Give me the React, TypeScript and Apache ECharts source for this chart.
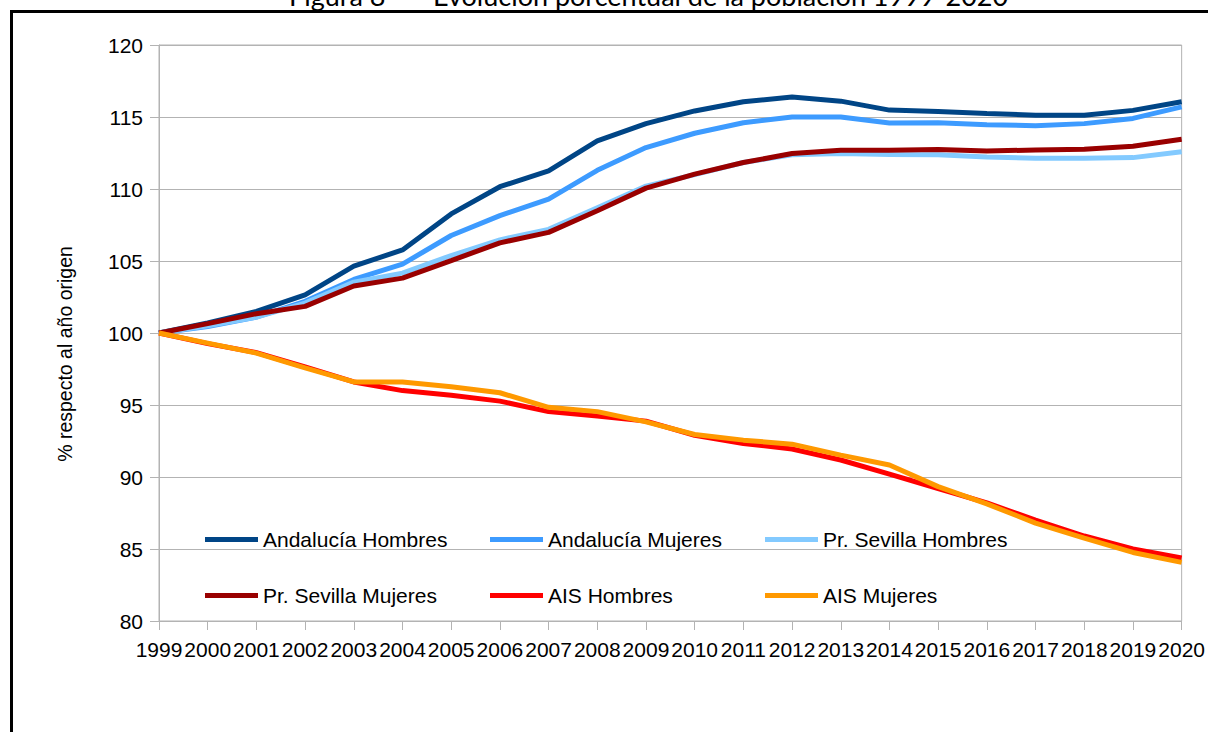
import React, { useEffect, useRef } from "react";
import * as echarts from "echarts";

const years = ["1999","2000","2001","2002","2003","2004","2005","2006","2007","2008","2009","2010","2011","2012","2013","2014","2015","2016","2017","2018","2019","2020"];

const andaluciaHombres = [100, 100.7, 101.5, 102.65, 104.64, 105.77, 108.27, 110.16, 111.26, 113.34, 114.54, 115.42, 116.06, 116.39, 116.1, 115.48, 115.39, 115.25, 115.12, 115.12, 115.46, 116.06];
const andaluciaMujeres = [100, 100.45, 101.1, 102.2, 103.72, 104.78, 106.77, 108.15, 109.3, 111.3, 112.88, 113.87, 114.6, 115.0, 115.0, 114.58, 114.6, 114.47, 114.4, 114.54, 114.9, 115.7];
const sevillaHombres = [100, 100.5, 101.1, 102.08, 103.53, 104.16, 105.38, 106.47, 107.2, 108.7, 110.2, 111.0, 111.84, 112.37, 112.46, 112.4, 112.38, 112.23, 112.14, 112.14, 112.18, 112.58];
const sevillaMujeres = [100, 100.65, 101.34, 101.85, 103.26, 103.81, 105.03, 106.26, 106.99, 108.49, 110.06, 111.03, 111.84, 112.46, 112.69, 112.69, 112.74, 112.64, 112.71, 112.76, 112.97, 113.45];
const aisHombres = [100, 99.26, 98.64, 97.64, 96.6, 96.0, 95.68, 95.27, 94.54, 94.23, 93.88, 92.9, 92.33, 91.94, 91.18, 90.2, 89.2, 88.2, 87.0, 85.9, 85.0, 84.37];
const aisMujeres = [100, 99.3, 98.6, 97.58, 96.6, 96.6, 96.27, 95.85, 94.84, 94.54, 93.83, 92.95, 92.56, 92.28, 91.52, 90.83, 89.33, 88.13, 86.8, 85.76, 84.76, 84.07];

const seriesNames = ["Andalucía Hombres", "Andalucía Mujeres", "Pr. Sevilla Hombres", "Pr. Sevilla Mujeres", "AIS Hombres", "AIS Mujeres"];
const seriesData = [andaluciaHombres, andaluciaMujeres, sevillaHombres, sevillaMujeres, aisHombres, aisMujeres];
const seriesColors = ["#004586", "#3d9bff", "#83caff", "#990000", "#ff0000", "#ff9900"];

const FONT = "'Liberation Sans', Arial, sans-serif";
const TITLE_FONT = "Lato, 'Liberation Sans', sans-serif";

export default function App() {
  const ref = useRef<HTMLDivElement>(null);
  useEffect(() => {
    if (!ref.current) return;
    const chart = echarts.init(ref.current, null, { renderer: "svg" });
    const legendCommon = {
      orient: "vertical" as const,
      icon: "rect",
      itemWidth: 53,
      itemHeight: 5,
      itemGap: 35,
      top: 529,
      padding: 0,
      textStyle: { fontFamily: FONT, fontSize: 21, color: "#000", lineHeight: 21 },
      selectedMode: false,
    };
    chart.setOption({
      animation: false,
      backgroundColor: "#fff",
      grid: { left: 159, right: 23, top: 45, bottom: 111, show: true, borderColor: "#b3b3b3", borderWidth: 1 },
      legend: [
        { ...legendCommon, left: 205, data: [seriesNames[0], seriesNames[3]] },
        { ...legendCommon, left: 490, data: [seriesNames[1], seriesNames[4]] },
        { ...legendCommon, left: 765, data: [seriesNames[2], seriesNames[5]] },
      ],
      xAxis: {
        type: "category",
        data: years,
        boundaryGap: false,
        axisLine: { lineStyle: { color: "#b3b3b3", width: 1 } },
        axisTick: { show: true, length: 9, lineStyle: { color: "#b3b3b3" } },
        axisLabel: { fontFamily: FONT, fontSize: 21, color: "#000", margin: 18, interval: 0 },
        splitLine: { show: false },
      },
      yAxis: {
        type: "value",
        min: 80,
        max: 120,
        interval: 5,
        axisLine: { show: true, lineStyle: { color: "#b3b3b3", width: 1 } },
        axisTick: { show: true, length: 9, lineStyle: { color: "#b3b3b3" } },
        axisLabel: { fontFamily: FONT, fontSize: 21, color: "#000", margin: 16 },
        splitLine: { show: true, lineStyle: { color: "#b3b3b3", width: 1 } },
      },
      series: seriesNames.map((name, i) => ({
        name,
        type: "line",
        data: seriesData[i],
        showSymbol: false,
        symbol: "none",
        lineStyle: { color: seriesColors[i], width: 5 },
        itemStyle: { color: seriesColors[i] },
      })),
      graphic: [
        {
          type: "rect",
          shape: { x: 11.5, y: 11.5, width: 1400, height: 1000 },
          style: { fill: "none", stroke: "#000", lineWidth: 3 },
          silent: true,
        },
        {
          type: "text",
          x: 65,
          y: 354,
          rotation: Math.PI / 2,
          style: {
            text: "% respecto al año origen",
            fontFamily: FONT,
            fontSize: 19.5,
            fill: "#000",
            textAlign: "center",
            textVerticalAlign: "middle",
          },
        },
        {
          type: "text",
          x: 289,
          y: 9,
          style: { text: "Figura 8", fontFamily: TITLE_FONT, fontSize: 27, fill: "#000", textAlign: "left", textVerticalAlign: "bottom" },
        },
        {
          type: "text",
          x: 433,
          y: 9,
          style: { text: "Evolución porcentual de la población 1999-2020", fontFamily: TITLE_FONT, fontSize: 27, fill: "#000", textAlign: "left", textVerticalAlign: "bottom" },
        },
      ],
    });
    return () => chart.dispose();
  }, []);
  return <div ref={ref} style={{ position: "absolute", left: 0, top: 0, width: 1208, height: 732 }} />;
}
